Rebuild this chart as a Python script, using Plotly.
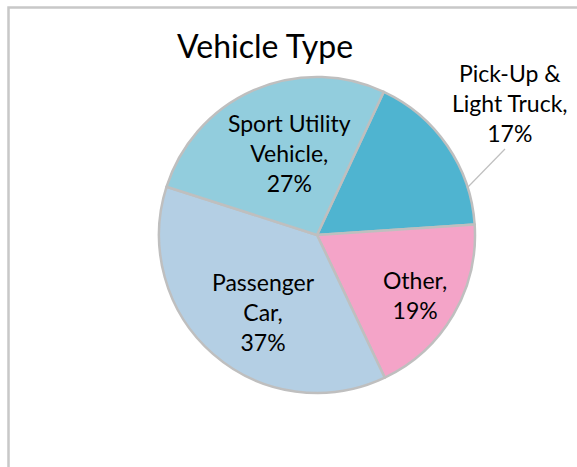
import plotly.graph_objects as go

categories = ["Pick-Up & Light Truck", "Other", "Passenger Car", "Sport Utility Vehicle"]
label_text = ["Pick-Up &<br>Light Truck,", "Other,", "Passenger<br>Car,", "Sport Utility<br>Vehicle,"]
values = [17, 19, 37, 27]
colors = ["#4FB4D0", "#F4A4C8", "#B4CFE4", "#92CDDD"]
title = "Vehicle Type"

W, H = 577, 467

def px(x):
    return x / W

def py(y):
    return 1 - y / H

fig = go.Figure()
fig.add_trace(go.Pie(
    labels=categories,
    values=values,
    sort=False,
    direction="clockwise",
    rotation=25,
    marker=dict(colors=colors, line=dict(color="#BFBFBF", width=2.5)),
    textinfo="none",
    hoverinfo="label+percent",
    domain=dict(x=[px(159), px(475)], y=[py(393), py(77)]),
    showlegend=False,
))

total = sum(values)
pct = [f"{round(v / total * 100)}%" for v in values]
font = dict(family="Lato", size=23, color="#000000")

# label positions (pixel centres)
pos = {
    "Other": (415, 295),
    "Passenger Car": (263, 312),
    "Sport Utility Vehicle": (289, 153),
    "Pick-Up & Light Truck": (510, 103),
}
annotations = []
for cat, lt, p in zip(categories, label_text, pct):
    txt = f"{lt}<br>{p}"
    x, y = pos[cat]
    annotations.append(dict(x=px(x), y=py(y), xref="paper", yref="paper",
                            text=txt, showarrow=False, font=font,
                            xanchor="center", yanchor="middle", align="center"))

annotations.append(dict(x=px(265), y=py(45), xref="paper", yref="paper",
                        text=title, showarrow=False,
                        font=dict(family="Lato", size=32, color="#000000"),
                        xanchor="center", yanchor="middle"))

fig.update_layout(
    width=W, height=H,
    margin=dict(l=0, r=0, t=0, b=0),
    paper_bgcolor="#FFFFFF",
    plot_bgcolor="#FFFFFF",
    annotations=annotations,
    shapes=[
        dict(type="rect", xref="paper", yref="paper",
             x0=px(8.5), x1=1.05, y0=-0.05, y1=py(7.5),
             line=dict(color="#C8C8C8", width=2.5), fillcolor="rgba(0,0,0,0)"),
        # leader line for the outside label
        dict(type="line", xref="paper", yref="paper",
             x0=px(467), y0=py(188), x1=px(505), y1=py(149),
             line=dict(color="#BFBFBF", width=1.2)),
    ],
)

fig.write_html("out.html",
               config={"displayModeBar": False},
               post_script="document.body.style.margin='0';document.body.style.overflow='hidden';")
